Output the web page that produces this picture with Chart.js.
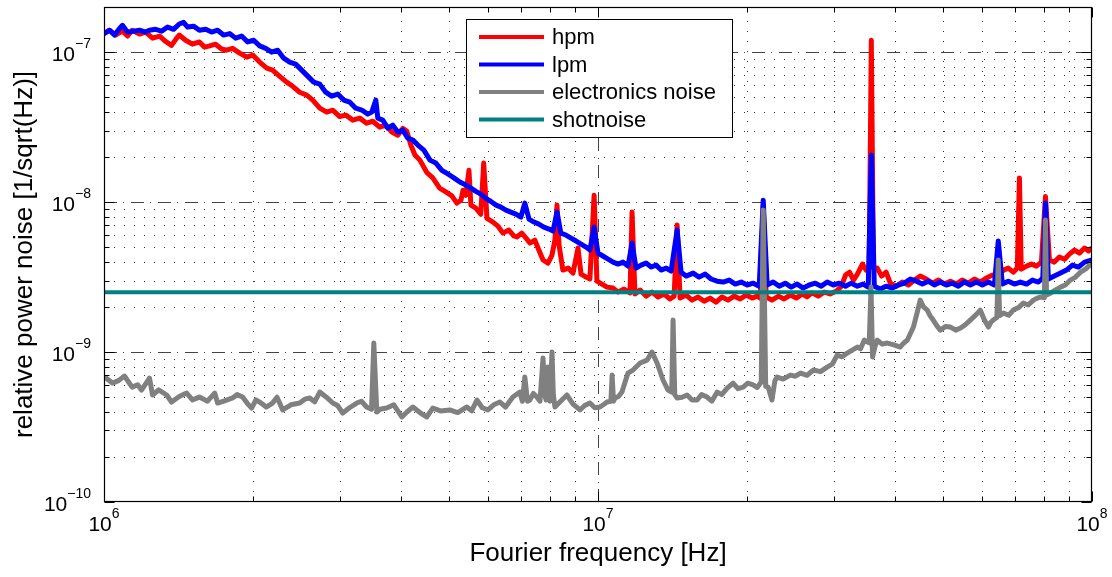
<!DOCTYPE html>
<html><head><meta charset="utf-8">
<script src="https://cdn.jsdelivr.net/npm/chart.js@4.4.1/dist/chart.umd.min.js"></script>
<style>html,body{margin:0;padding:0;background:#fff;}canvas{display:block;}</style>
</head><body>
<canvas id="c" width="1112" height="577"></canvas>
<script>
// Frequencies in MHz, noise values in units of 1e-9 / sqrt(Hz)
const hpmFreqMHz = [1.00,1.026,1.055,1.09,1.116,1.14,1.18,1.214,1.254,1.296,
1.332,1.37,1.403,1.42,1.463,1.51,1.56,1.598,1.636,1.682,
1.73,1.77,1.821,1.882,1.945,2.0,2.066,2.135,2.194,2.268,
2.343,2.41,2.49,2.573,2.646,2.734,2.824,2.904,3.0,3.087,
3.19,3.294,3.40,3.50,3.615,3.72,3.825,3.933,4.026,4.10,
4.18,4.26,4.36,4.50,4.63,4.78,4.92,5.06,5.18,5.28,
5.33,5.40,5.48,5.53,5.66,5.79,5.87,5.96,6.13,6.27,
6.42,6.60,6.76,6.85,7.01,7.15,7.28,7.45,7.59,7.74,
7.92,8.07,8.18,8.26,8.34,8.49,8.70,8.90,9.11,9.24,
9.46,9.63,9.82,9.95,10.19,10.43,10.73,10.98,11.29,11.61,
11.72,11.88,12.17,12.51,12.86,13.23,13.60,13.99,14.26,14.46,
14.66,15.08,15.50,15.94,16.40,16.86,17.34,17.83,18.33,18.86,
19.40,19.95,20.51,21.0,21.3,21.6,21.9,22.5,23.2,23.8,
24.5,25.2,25.9,26.5,27.1,27.9,28.7,29.5,30.4,31.1,
31.7,32.3,32.9,33.5,34.3,34.9,35.4,35.75,36.1,36.75,
37.5,38.3,39.06,40.2,41.3,42.5,43.7,44.9,46.2,47.5,
48.9,50.2,51.7,53.1,54.6,56.2,57.8,59.4,61.1,62.9,
64.6,66.2,67.7,69.3,70.6,71.3,71.9,73.7,75.4,77.2,
79.0,80.5,82.0,83.9,85.9,88.0,90.0,92.2,94.3,96.6,
98.4,100];
const hpmNoise = [133,140,130,138,128,140,132,136,124,128,
118,111,124,130,120,113,117,108,110,113,
105,103,106,98.5,92.6,95.6,85.8,78.3,75.9,69.0,
63.1,59.2,54.0,51.7,47.9,42.3,39.8,41.0,37.2,38.0,
35.2,36.3,33.6,34.6,31.6,32.6,29.3,27.9,31.0,29.8,
24.0,20.6,19.05,15.8,14.5,12.4,11.7,11.0,9.85,10.3,
12.0,11.1,16.3,9.55,9.1,8.3,18.2,7.8,7.36,6.92,
6.21,6.51,5.94,5.85,6.21,5.76,5.33,5.58,4.79,4.11,
3.92,4.43,5.58,9.55,5.17,3.52,3.63,3.36,4.94,3.31,
3.16,3.07,11.1,2.97,2.84,2.71,2.67,2.51,2.63,2.48,
8.58,2.44,2.59,2.36,2.51,2.33,2.44,2.26,2.36,7.03,
2.29,2.40,2.22,2.33,2.18,2.29,2.15,2.33,2.22,2.36,
2.26,2.40,2.29,2.36,2.29,9.5,2.33,2.22,2.36,2.26,
2.40,2.29,2.44,2.33,2.48,2.36,2.51,2.44,2.55,2.75,
3.26,3.41,3.02,3.31,3.86,3.52,3.74,120,3.63,3.63,
3.21,3.41,2.88,2.75,2.93,2.80,3.02,3.21,3.07,2.88,
3.02,2.84,2.97,2.84,3.02,2.88,3.07,2.93,3.12,3.26,
3.21,3.52,3.63,3.41,3.63,14.5,3.57,3.74,3.86,3.74,
3.98,10.9,4.11,3.98,4.30,4.16,4.50,4.79,4.57,4.94,
4.72,4.94];

const lpmFreqMHz = [1.00,1.026,1.05,1.075,1.09,1.116,1.148,1.18,1.214,1.236,
1.272,1.308,1.345,1.383,1.42,1.449,1.477,1.518,1.56,1.606,
1.651,1.698,1.746,1.796,1.847,1.899,1.953,2.009,2.066,2.125,
2.185,2.247,2.311,2.376,2.443,2.513,2.584,2.658,2.734,2.81,
2.89,2.973,3.057,3.145,3.233,3.325,3.42,3.483,3.55,3.583,
3.667,3.754,3.842,3.933,4.026,4.121,4.22,4.318,4.441,4.57,
4.696,4.83,4.966,5.108,5.253,5.40,5.53,5.66,5.79,5.93,
6.07,6.22,6.36,6.51,6.66,6.82,6.98,7.11,7.25,7.42,
7.59,7.77,7.96,8.11,8.26,8.41,8.61,8.82,9.03,9.24,
9.46,9.63,9.82,10.0,10.23,10.48,10.73,10.98,11.24,11.5,
11.72,11.94,12.22,12.51,12.81,13.11,13.42,13.74,14.06,14.46,
14.73,15.08,15.58,16.02,16.48,16.94,17.42,17.92,18.43,18.96,
19.49,20.04,20.61,21.2,21.6,22.0,22.62,23.27,23.93,24.61,
25.3,26.03,26.77,27.53,28.31,29.11,29.94,30.79,31.7,32.56,
33.5,34.4,35.24,35.75,36.25,37.28,38.3,39.42,40.54,41.69,
42.88,44.1,45.35,46.64,47.95,49.3,50.72,52.16,53.64,55.15,
56.72,58.34,59.99,61.69,63.44,64.6,65.85,67.7,69.66,71.63,
73.7,75.76,77.91,79.5,80.5,81.6,83.9,86.35,88.8,91.29,
93.88,96.6,100];
const lpmNoise = [133,140,130,144,151,136,138,140,136,140,
142,138,147,142,154,158,147,149,140,142,
136,140,130,133,124,128,117,120,110,106,
100,103,91.2,85.8,83.2,75.9,69.2,63.1,61.2,54.1,
50.9,52.5,47.9,46.4,42.3,41.1,38.6,39.8,47.9,36.3,
35.2,31.1,32.6,29.3,30.2,26.7,25.9,24.0,22.2,19.05,
18.2,16.3,15.4,14.5,13.6,13.0,12.4,11.8,11.3,10.6,
10.1,9.55,9.26,8.84,8.58,8.32,7.94,9.85,7.70,7.36,
7.13,6.81,6.61,6.41,8.6,6.21,6.03,5.75,5.50,5.25,
5.01,4.79,6.81,4.57,4.37,4.17,3.98,3.86,3.98,3.74,
5.33,3.63,3.80,3.92,3.69,3.80,3.52,3.63,3.47,6.51,
3.41,3.21,3.36,3.16,3.31,3.07,2.97,2.93,3.02,2.84,
2.93,2.80,2.88,2.75,10.3,2.80,2.93,2.75,2.88,2.71,
2.84,2.67,2.80,2.88,2.75,2.93,2.80,2.88,2.75,2.88,
2.75,2.84,2.71,20.6,2.75,2.63,2.75,2.67,2.80,2.88,
3.07,2.97,2.84,2.97,2.80,2.93,2.80,2.88,2.75,2.93,
2.80,2.93,2.80,2.93,2.80,5.5,2.84,2.97,2.84,2.93,
2.84,3.02,2.93,3.12,9.85,3.07,3.21,3.36,3.52,3.80,
3.69,3.98,4.11];

const elecFreqMHz = [1.002,1.040,1.07,1.100,1.14,1.17,1.191,1.236,1.254,1.29,
1.339,1.37,1.42,1.47,1.51,1.56,1.62,1.675,1.698,1.76,
1.821,1.86,1.908,1.95,1.99,2.03,2.066,2.13,2.194,2.24,
2.30,2.39,2.49,2.55,2.609,2.67,2.734,2.82,2.904,2.97,
3.043,3.14,3.249,3.32,3.40,3.48,3.517,3.567,3.62,3.736,
3.86,4.008,4.11,4.22,4.36,4.50,4.63,4.80,5.01,5.20,
5.427,5.55,5.687,5.83,5.986,6.15,6.33,6.50,6.725,6.948,
7.03,7.11,7.20,7.28,7.40,7.52,7.63,7.74,7.80,7.85,
7.92,7.99,8.07,8.12,8.18,8.40,8.65,8.90,9.195,9.40,
9.63,9.85,10.09,10.25,10.43,10.62,10.68,10.75,10.83,11.00,
11.18,11.5,11.77,12.17,12.57,12.86,13.17,13.54,13.86,14.10,
14.19,14.30,14.46,14.80,15.15,15.50,15.87,16.20,16.63,17.00,
17.43,17.80,18.26,18.77,19.20,19.67,20.10,20.61,21.00,21.40,
21.6,21.85,22.1,22.5,22.8,23.05,23.7,24.5,25.1,25.7,
26.5,27.3,28.2,29.1,29.8,30.5,31.2,31.96,32.7,33.5,
34.0,34.6,35.4,35.7,35.95,36.4,36.75,37.6,38.5,39.6,
40.9,41.6,42.3,43.5,44.2,44.9,45.6,46.4,47.0,47.7,
48.5,49.3,50.5,51.7,53.0,54.2,55.4,56.7,58.0,59.4,
60.5,61.7,62.4,63.1,64.2,64.6,65.0,66.2,67.8,69.3,
71.0,72.6,74.3,76.1,77.3,78.6,80.1,80.5,80.9,82.4,
84.4,86.35,88.3,90.4,92.5,94.8,97.3,100];
const elecNoise = [0.684,0.621,0.645,0.692,0.584,0.605,0.558,0.671,0.517,0.560,
0.517,0.464,0.505,0.533,0.480,0.501,0.470,0.533,0.457,0.475,
0.494,0.520,0.501,0.455,0.423,0.480,0.464,0.430,0.457,0.500,
0.411,0.445,0.457,0.485,0.494,0.465,0.541,0.500,0.457,0.440,
0.392,0.425,0.457,0.470,0.430,0.415,1.148,0.398,0.415,0.423,
0.445,0.369,0.400,0.430,0.395,0.369,0.423,0.405,0.411,0.395,
0.430,0.405,0.479,0.425,0.411,0.445,0.464,0.430,0.501,0.541,
0.470,0.681,0.470,0.479,0.530,0.501,0.470,0.912,0.520,0.479,
0.794,0.470,1.0,0.520,0.430,0.470,0.517,0.450,0.411,0.440,
0.457,0.425,0.430,0.445,0.464,0.470,0.702,0.470,0.494,0.505,
0.541,0.724,0.759,0.845,0.884,1.0,0.845,0.651,0.558,0.540,
1.634,0.520,0.494,0.500,0.517,0.479,0.479,0.520,0.501,0.470,
0.541,0.520,0.575,0.621,0.570,0.584,0.620,0.603,0.580,0.631,
8.84,0.590,0.584,0.479,0.640,0.681,0.660,0.702,0.690,0.724,
0.700,0.759,0.740,0.794,0.830,0.955,0.930,0.985,1.030,1.080,
1.050,1.202,1.150,2.71,0.926,1.100,1.202,1.130,1.148,1.120,
1.080,1.150,1.202,1.468,1.800,2.22,2.00,1.905,1.750,1.634,
1.500,1.401,1.480,1.468,1.400,1.445,1.520,1.634,1.750,1.905,
1.650,1.468,1.580,1.634,1.700,4.11,1.750,1.82,1.760,1.905,
1.980,2.12,2.060,2.22,2.280,2.33,2.300,7.59,2.40,2.47,
2.600,2.71,2.800,3.02,3.150,3.41,3.600,3.92];

const shotFreqMHz = [1, 100];
const shotNoise = [2.5, 2.5];

const seriesNames = ['hpm', 'lpm', 'electronics noise', 'shotnoise'];
const seriesColors = ['#ff0000', '#0000ff', '#808080', '#008080'];
const xTickExponents = [6, 7, 8];
const yTickExponents = [-10, -9, -8, -7];
const xAxisTitle = 'Fourier frequency [Hz]';
const yAxisTitle = 'relative power noise [1/sqrt(Hz)]';

const FONT = '"Liberation Sans", Arial, Helvetica, sans-serif';

function toPoints(freqMHz, vals) {
  return freqMHz.map((f, i) => ({ x: f * 1e6, y: vals[i] * 1e-9 }));
}

const seriesData = [
  toPoints(hpmFreqMHz, hpmNoise),
  toPoints(lpmFreqMHz, lpmNoise),
  toPoints(elecFreqMHz, elecNoise),
  toPoints(shotFreqMHz, shotNoise)
];

const datasets = seriesData.map((d, i) => ({
  label: seriesNames[i],
  data: d,
  showLine: true,
  borderColor: seriesColors[i],
  backgroundColor: seriesColors[i],
  borderWidth: i === 3 ? 4 : 5,
  pointRadius: 0,
  pointHoverRadius: 0,
  tension: 0,
  borderJoinStyle: 'round',
  borderCapStyle: 'butt',
  order: 4 - i
}));

function supText(exp) {
  return (exp < 0 ? '\u2212' : '') + Math.abs(exp);
}

function minorValues(minE, maxE, upTo) {
  const out = [];
  for (let e = minE; e < maxE; e++) {
    for (let m = 2; m <= 9; m++) {
      const v = m * Math.pow(10, e);
      if (v < upTo) out.push(v);
    }
  }
  return out;
}

const framePlugin = {
  id: 'frame',
  beforeDatasetsDraw(chart) {
    const { ctx, chartArea: a, scales: { x, y } } = chart;
    ctx.save();
    ctx.beginPath();
    ctx.rect(a.left, a.top, a.right - a.left, a.bottom - a.top);
    ctx.clip();
    ctx.lineWidth = 1;
    ctx.strokeStyle = '#333';
    ctx.setLineDash([1, 9]);
    minorValues(6, 8, 1e8).forEach(v => {
      const px = Math.round(x.getPixelForValue(v)) + 0.5;
      ctx.beginPath(); ctx.moveTo(px, a.bottom); ctx.lineTo(px, a.top); ctx.stroke();
    });
    minorValues(-10, -6, 2e-7 * 0.999).forEach(v => {
      const py = Math.round(y.getPixelForValue(v)) + 0.5;
      ctx.beginPath(); ctx.moveTo(a.left, py); ctx.lineTo(a.right, py); ctx.stroke();
    });
    ctx.strokeStyle = '#444';
    ctx.setLineDash([13, 6, 1, 7]);
    xTickExponents.slice(1, -1).forEach(e => {
      const px = Math.round(x.getPixelForValue(Math.pow(10, e))) + 0.5;
      ctx.beginPath(); ctx.moveTo(px, a.bottom); ctx.lineTo(px, a.top); ctx.stroke();
    });
    yTickExponents.slice(1).forEach(e => {
      const py = Math.round(y.getPixelForValue(Math.pow(10, e))) + 0.5;
      ctx.beginPath(); ctx.moveTo(a.left, py); ctx.lineTo(a.right, py); ctx.stroke();
    });
    ctx.restore();
  },
  afterDatasetsDraw(chart) {
    const { ctx, chartArea: a, scales: { x, y } } = chart;
    ctx.save();
    ctx.setLineDash([]);
    ctx.strokeStyle = '#000';
    ctx.lineWidth = 1;
    const L = Math.round(a.left) + 0.5, R = Math.round(a.right) - 0.5;
    const T = Math.round(a.top) + 0.5, B = Math.round(a.bottom) - 0.5;
    const tickX = (v, len) => {
      const px = Math.round(x.getPixelForValue(v)) + 0.5;
      ctx.beginPath(); ctx.moveTo(px, B); ctx.lineTo(px, B - len);
      ctx.moveTo(px, T); ctx.lineTo(px, T + len); ctx.stroke();
    };
    const tickY = (v, len) => {
      const py = Math.round(y.getPixelForValue(v)) + 0.5;
      ctx.beginPath(); ctx.moveTo(L, py); ctx.lineTo(L + len, py);
      ctx.moveTo(R, py); ctx.lineTo(R - len, py); ctx.stroke();
    };
    minorValues(6, 8, 1e8).forEach(v => tickX(v, 5));
    xTickExponents.forEach(e => tickX(Math.pow(10, e), 10));
    minorValues(-10, -6, 2e-7 * 0.999).forEach(v => tickY(v, 5));
    yTickExponents.forEach(e => tickY(Math.pow(10, e), 10));
    ctx.lineWidth = 1.2;
    ctx.strokeRect(L, T, R - L, B - T);

    ctx.fillStyle = '#000';
    ctx.textBaseline = 'alphabetic';
    ctx.textAlign = 'left';
    const bigFont = '21px ' + FONT, smallFont = '14px ' + FONT;
    yTickExponents.forEach(e => {
      const py = y.getPixelForValue(Math.pow(10, e));
      ctx.font = bigFont; const w10 = ctx.measureText('10').width;
      ctx.font = smallFont; const s = supText(e); const ws = ctx.measureText(s).width;
      const x0 = 91 - w10 - ws;
      ctx.font = bigFont; ctx.fillText('10', x0, py + 8.5);
      ctx.font = smallFont; ctx.fillText(s, x0 + w10, py - 4.5);
    });
    xTickExponents.forEach(e => {
      const px = x.getPixelForValue(Math.pow(10, e));
      ctx.font = bigFont; const w10 = ctx.measureText('10').width;
      ctx.font = smallFont; const s = supText(e); const ws = ctx.measureText(s).width;
      const x0 = px - (w10 + ws) / 2;
      ctx.font = bigFont; ctx.fillText('10', x0, a.bottom + 29);
      ctx.font = smallFont; ctx.fillText(s, x0 + w10, a.bottom + 16);
    });

    const lx = 466.5, ly = 19.5, lw = 266, lh = 118;
    ctx.fillStyle = '#fff';
    ctx.fillRect(lx, ly, lw, lh);
    ctx.lineWidth = 1;
    ctx.strokeStyle = '#000';
    ctx.strokeRect(lx, ly, lw, lh);
    const rowY = [37, 64.5, 92, 119.5];
    chart.data.datasets.forEach((ds, i) => {
      ctx.strokeStyle = ds.borderColor;
      ctx.lineWidth = 4;
      ctx.beginPath(); ctx.moveTo(479, rowY[i]); ctx.lineTo(544, rowY[i]); ctx.stroke();
      ctx.fillStyle = '#000';
      ctx.font = '22px ' + FONT;
      ctx.textBaseline = 'middle';
      ctx.fillText(ds.label, 552, rowY[i] + 1);
    });
    ctx.restore();
  }
};

new Chart(document.getElementById('c'), {
  type: 'scatter',
  data: { datasets },
  options: {
    responsive: false,
    animation: false,
    devicePixelRatio: 1,
    layout: { padding: { left: 0, right: 20, top: 7, bottom: 0 } },
    plugins: { legend: { display: false }, tooltip: { enabled: false } },
    scales: {
      x: {
        type: 'logarithmic', position: 'bottom', min: 1e6, max: 1e8,
        grid: { display: false }, border: { display: false },
        ticks: { display: false },
        title: { display: true, text: xAxisTitle, color: '#000',
                 font: { family: FONT, size: 26 }, padding: { top: 0, bottom: 8 } },
        afterFit: s => { s.height = 75; }
      },
      y: {
        type: 'logarithmic', position: 'left', min: 1e-10, max: 2e-7,
        grid: { display: false }, border: { display: false },
        ticks: { display: false },
        title: { display: true, text: yAxisTitle, color: '#000',
                 font: { family: FONT, size: 26 }, padding: { top: 9, bottom: 0 } },
        afterFit: s => { s.width = 104; }
      }
    }
  },
  plugins: [framePlugin]
});
</script>
</body></html>
